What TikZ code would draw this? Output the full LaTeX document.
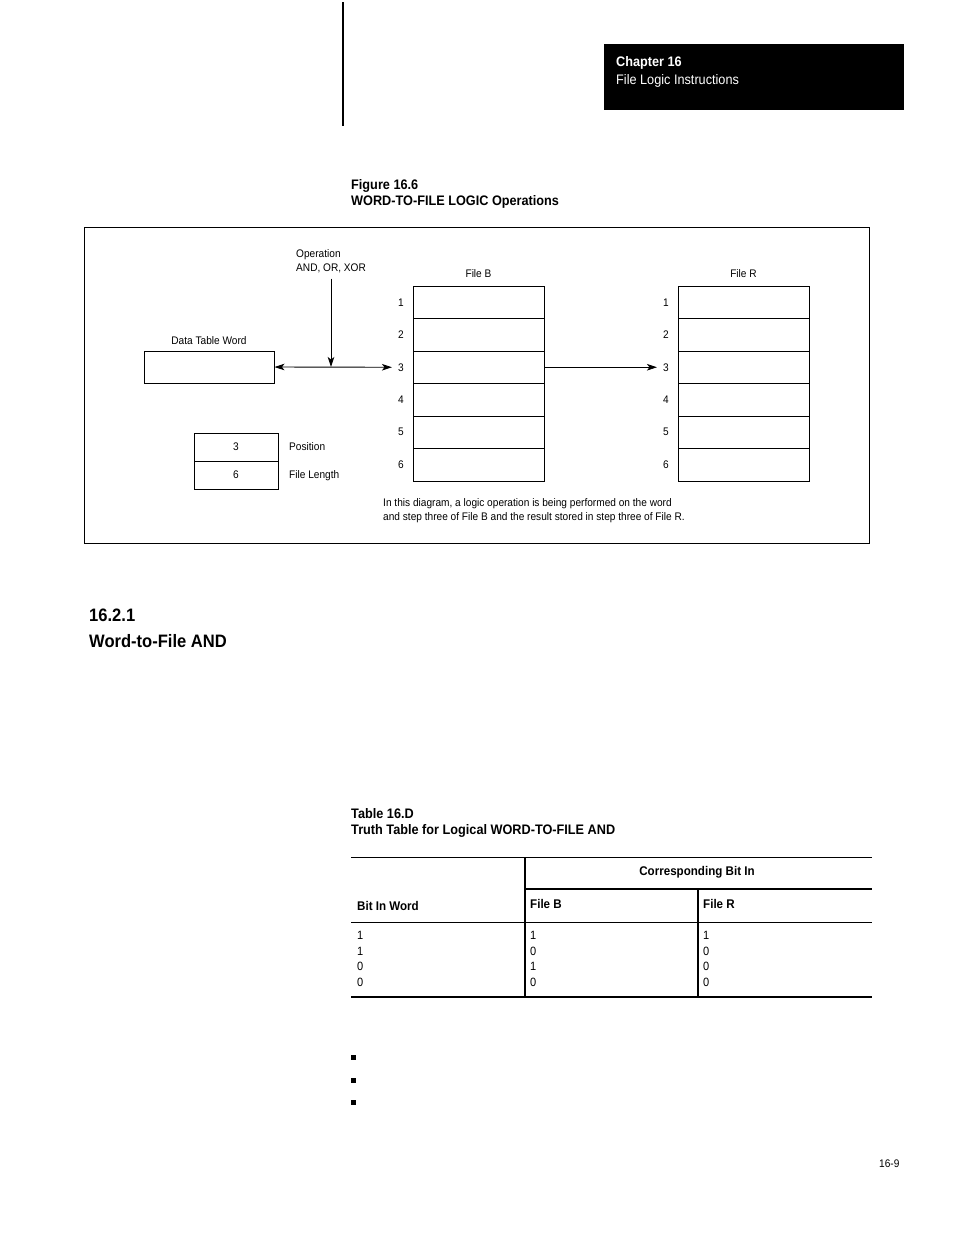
\documentclass[tikz,border=0pt]{standalone}
\usepackage{fontspec}
\setmainfont{Liberation Sans}[FakeStretch=0.92]
\usetikzlibrary{arrows.meta}
\newcommand*{\cellw}{131}
\newcommand*{\cellh}{32.5}
\newcommand*{\fbx}{478.5}
\newcommand*{\frx}{743.5}
\newcommand*{\celltop}{286}

\begin{document}
\begin{tikzpicture}[x=1pt, y=-1pt, font=\fontsize{11}{13}\selectfont,
    lbl/.style={anchor=base west, inner sep=0pt},
    head/.style={font=\fontsize{13.8}{16}\selectfont\bfseries},
    cell/.style={draw, line width=0.9pt, minimum width=\cellw pt, minimum height=\cellh pt, inner sep=0pt},
    tip/.style={-{Stealth[length=10pt, width=6.5pt, inset=2.5pt]}, line width=0.9pt},
    twotips/.style={{Stealth[length=10pt, width=6.5pt, inset=2.5pt]}-{Stealth[length=10pt, width=6.5pt, inset=2.5pt]}, line width=0.9pt}]
    \useasboundingbox (0,0) rectangle (954,1235);
    % page head
    \draw [line width=2pt] (343,2) -- (343,126);
    \fill (604,44) rectangle (904,110);
    \node [lbl, head, text=white] (chap) at (616,66) {Chapter 16};
    \node [lbl, text=white, font=\fontsize{13.8}{16}\selectfont] (chapname) at (616,84) {File Logic Instructions};
    \node [lbl, head] (figno) at (351,189) {Figure 16.6};
    \node [lbl, head] (figtitle) at (351,205) {WORD-TO-FILE LOGIC Operations};
    % figure
    \draw [line width=1pt] (84,227) rectangle (869,543);
    \node [lbl] (op) at (296,257) {Operation};
    \node [lbl] (opkind) at (296,271) {AND, OR, XOR};
    \node [anchor=base, inner sep=0pt] (dtwlbl) at (209,344) {Data Table Word};
    \node [draw, line width=0.9pt, minimum width=130pt, minimum height=32pt, inner sep=0pt] (dtw) at (209,367) {};
    \node [anchor=base, inner sep=0pt] (fblbl) at (\fbx,277) {File B};
    \node [anchor=base, inner sep=0pt] (frlbl) at (\frx,277) {File R};
    \foreach \i in {1,...,6} {
        \node [cell] (b\i) at (\fbx,\celltop+\cellh*\i-\cellh/2) {};
        \node [cell] (r\i) at (\frx,\celltop+\cellh*\i-\cellh/2) {};
        \node [inner sep=2pt] (nb\i) at (401,\celltop+\cellh*\i-\cellh/2) {\i};
        \node [inner sep=2pt] (nr\i) at (666,\celltop+\cellh*\i-\cellh/2) {\i};
    }
    \coordinate (junc) at (331,367);
    \draw [twotips] (dtw.east) -- ([xshift=-4pt]nb3.west);
    \draw [tip] ([yshift=-6pt]opkind.south -| junc) -- (junc);
    \draw [tip, line width=0.7pt] (b3.east) -- ([xshift=-4pt]nr3.west);
    \node [draw, line width=0.6pt, minimum width=84pt, minimum height=28pt, inner sep=0pt] (pos) at (236,447) {3};
    \node [draw, line width=0.6pt, minimum width=84pt, minimum height=28pt, inner sep=0pt] (len) at (236,475) {6};
    \node [lbl] (poslbl) at (289,450) {Position};
    \node [lbl] (lenlbl) at (289,478) {File Length};
    \node [lbl] (note1) at (383,506) {In this diagram, a logic operation is being performed on the word};
    \node [lbl] (note2) at (383,520) {and step three of File B and the result stored in step three of File R.};
    % section
    \node [lbl, font=\fontsize{18}{21}\selectfont\bfseries] (secno) at (89,621) {16.2.1};
    \node [lbl, font=\fontsize{18}{21}\selectfont\bfseries] (sectitle) at (89,647) {Word-to-File AND};
    % table
    \node [lbl, head] (tabno) at (351,818) {Table 16.D};
    \node [lbl, head] (tabtitle) at (351,834) {Truth Table for Logical WORD-TO-FILE AND};
    \draw [line width=0.9pt] (351,857) -- (872,857);
    \draw [line width=1.4pt] (525,857) -- (525,997);
    \draw [line width=1.4pt] (525,889) -- (872,889);
    \draw [line width=0.9pt] (351,922) -- (872,922);
    \draw [line width=1.4pt] (698,889) -- (698,997);
    \draw [line width=1.8pt] (351,997) -- (872,997);
    \node [anchor=base, inner sep=0pt, font=\fontsize{12.6}{15}\selectfont\bfseries] (corr) at (697,875) {Corresponding Bit In};
    \node [lbl, font=\fontsize{12.6}{15}\selectfont\bfseries] (hword) at (357,910) {Bit In Word};
    \node [lbl, font=\fontsize{12.6}{15}\selectfont\bfseries] (hfb) at (530,908) {File B};
    \node [lbl, font=\fontsize{12.6}{15}\selectfont\bfseries] (hfr) at (703,908) {File R};
    \foreach \w/\b/\r [count=\k] in {1/1/1, 1/0/0, 0/1/0, 0/0/0} {
        \node [lbl, font=\fontsize{12}{14}\selectfont] (w\k) at (357,924+15.6*\k) {\w};
        \node [lbl, font=\fontsize{12}{14}\selectfont] (fb\k) at (530,924+15.6*\k) {\b};
        \node [lbl, font=\fontsize{12}{14}\selectfont] (fr\k) at (703,924+15.6*\k) {\r};
    }
    \foreach \y in {1057,1080,1102}
        \fill (351,\y-2.5) rectangle (356,\y+2.5);
    \node [lbl, font=\fontsize{11}{13}\selectfont] (pageno) at (879,1167) {16-9};
\end{tikzpicture}
\end{document}
